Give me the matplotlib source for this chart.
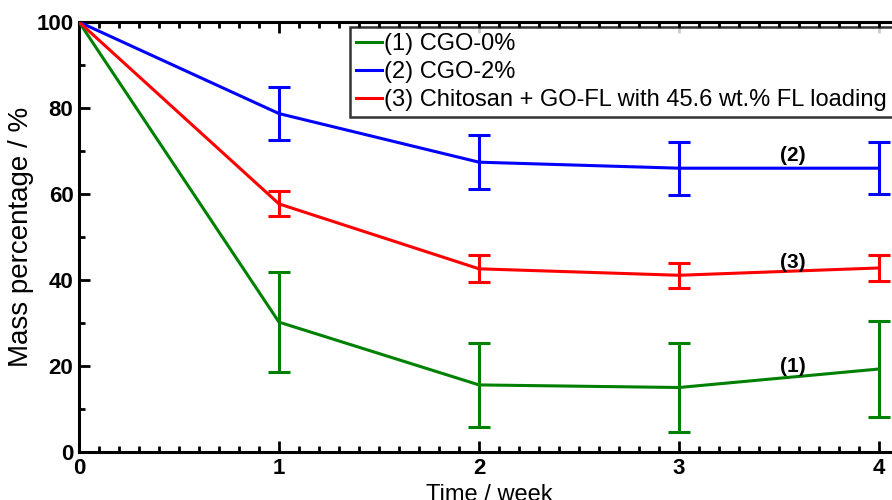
import numpy as np
import matplotlib; matplotlib.use("Agg")
import matplotlib.pyplot as plt
from matplotlib.ticker import MultipleLocator

plt.rcParams["font.family"] = ["Liberation Sans", "DejaVu Sans"]

weeks = [0, 1, 2, 3, 4]
cgo0 = [100, 30.2, 15.6, 15.0, 19.3]
cgo0_err = [0, 11.7, 9.8, 10.3, 11.2]
cgo2 = [100, 78.7, 67.4, 66.0, 66.0]
cgo2_err = [0, 6.2, 6.3, 6.2, 6.0]
chit = [100, 57.7, 42.6, 41.1, 42.8]
chit_err = [0, 2.9, 3.1, 2.9, 3.0]
labels = ["(1) CGO-0%", "(2) CGO-2%", "(3) Chitosan + GO-FL with 45.6 wt.% FL loading"]
tags = ["(1)", "(2)", "(3)"]
tag_y = [20.0, 69.0, 44.0]

XMAX = 4.3
W = 200 * XMAX  # axes width in px
fig = plt.figure(figsize=(8.92, 5.0), dpi=100)
ax = fig.add_axes([79 / 892, 48 / 500, W / 892, 430 / 500])

series = [(cgo0, cgo0_err, "#008000"), (cgo2, cgo2_err, "#0000ff"), (chit, chit_err, "#ff0000")]
handles = []
for (y, e, c), lab in zip(series, labels):
    ax.errorbar(weeks[1:], y[1:], yerr=e[1:], fmt="none", ecolor=c, elinewidth=2.2,
                capsize=8, capthick=2.2, zorder=2)
    h, = ax.plot(weeks, y, color=c, lw=2.2, label=lab, zorder=3)
    handles.append(h)

for t, ty in zip(tags, tag_y):
    ax.text(3.57, ty, t, fontsize=15, fontweight="bold", ha="center", va="center")

ax.set_xlim(0, XMAX)
ax.set_ylim(0, 100)
ax.xaxis.set_major_locator(MultipleLocator(1))
ax.xaxis.set_minor_locator(MultipleLocator(0.1))
ax.yaxis.set_major_locator(MultipleLocator(20))
ax.yaxis.set_minor_locator(MultipleLocator(10))
ax.tick_params(which="both", direction="in", top=True, right=True, width=2,
               labelsize=16, pad=4)
ax.tick_params(which="major", length=8)
ax.tick_params(which="minor", length=4)
for lb in ax.get_xticklabels() + ax.get_yticklabels():
    lb.set_fontweight("bold")
for s in ax.spines.values():
    s.set_linewidth(2.2)

ax.set_xlabel("Time / week", fontsize=17)
ax.xaxis.set_label_coords((489 - 79) / W, -32 / 430)
ax.set_ylabel("Mass percentage / %", fontsize=20)
ax.yaxis.set_label_coords((34 - 79) / W, 0.5)

leg = ax.legend(handles=handles, loc="upper left", bbox_to_anchor=(271 / W, 0.988),
                fontsize=17, frameon=True, fancybox=False, handlelength=1.1,
                handletextpad=0.1, labelspacing=0.25, borderpad=0.25, borderaxespad=0)
leg.get_frame().set_edgecolor("black")
leg.get_frame().set_linewidth(1.8)
leg.set_zorder(5)

fig.savefig("out.png", dpi=100)
